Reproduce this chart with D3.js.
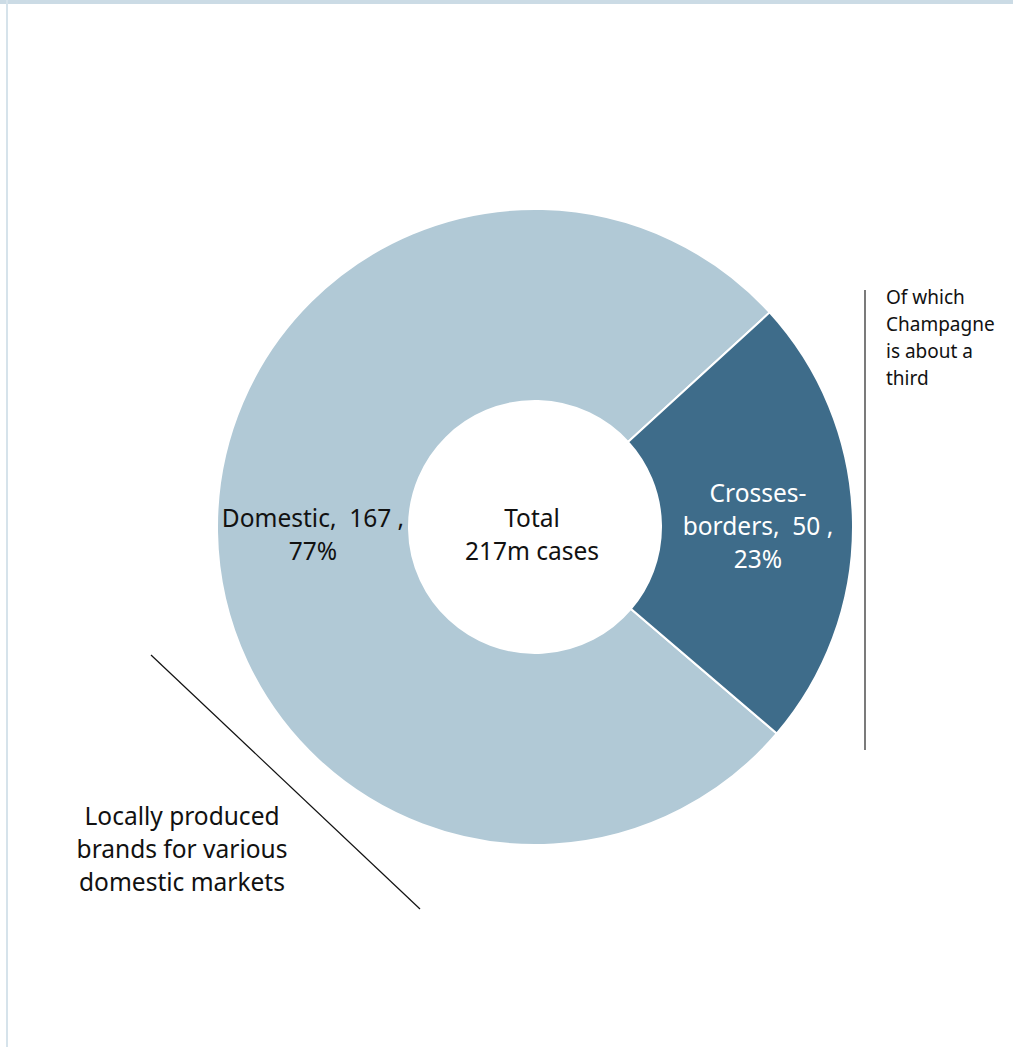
<!DOCTYPE html>
<html>
<head>
<meta charset="utf-8">
<script src="https://cdn.jsdelivr.net/npm/d3@7"></script>
<style>
  html, body { margin: 0; padding: 0; background: #fff; }
  svg text { font-family: "Noto Sans", "Open Sans", sans-serif; white-space: pre; }
</style>
</head>
<body>
<svg></svg>
<script>
// ─── DATA ─────────────────────────────────────────────────────────────
const categories = ["Domestic", "Crosses-borders"];
const values = [167, 50];
const shares = ["77%", "23%"];
const totalLines = ["Total", "217m cases"];
const champagneNote = ["Of which", "Champagne", "is about a", "third"];
const localNote = ["Locally produced", "brands for various", "domestic markets"];

// ─── DIMENSIONS ───────────────────────────────────────────────────────
const width = 1013,
  height = 1047,
  cx = 535,
  cy = 527,
  outerR = 318,
  innerR = 126;

const svg = d3.select("svg").attr("width", width).attr("height", height);

// frame lines (top + left)
svg.append("rect").attr("x", 0).attr("y", 0).attr("width", width).attr("height", 4).attr("fill", "#cbdbe5");
svg.append("rect").attr("x", 6).attr("y", 0).attr("width", 2).attr("height", height).attr("fill", "#d6e3eb");

const color = d3.scaleOrdinal().domain(categories).range(["#b1c9d6", "#3e6c8a"]);

const data = categories.map((c, i) => ({ name: c, value: values[i], share: shares[i] }));

// start so the cross-border slice sits around 3 o'clock
const startDeg = 130.5;
const pie = d3
  .pie()
  .sort(null)
  .value((d) => d.value)
  .startAngle((startDeg * Math.PI) / 180)
  .endAngle(((startDeg + 360) * Math.PI) / 180);

const arc = d3.arc().innerRadius(innerR).outerRadius(outerR);

const g = svg.append("g").attr("transform", `translate(${cx},${cy})`);

g.selectAll("path")
  .data(pie(data))
  .join("path")
  .attr("d", arc)
  .attr("fill", (d) => color(d.data.name))
  .attr("stroke", "#fff")
  .attr("stroke-width", 2);

// ─── SLICE LABELS ────────────────────────────────────────────────────
function multiline(sel, lines, x, y, lh, size, fill, anchor = "middle") {
  const t = sel
    .append("text")
    .attr("text-anchor", anchor)
    .attr("font-size", size)
    .attr("fill", fill);
  lines.forEach((l, i) => {
    t.append("tspan").attr("x", x).attr("y", y + i * lh).text(l);
  });
  return t;
}

multiline(svg, [`${categories[0]},  ${values[0]} ,`, shares[0]], 313, 527, 33, 24.5, "#111");
multiline(svg, ["Crosses-", `borders,  ${values[1]} ,`, shares[1]], 758, 502, 33, 24.5, "#fff");
multiline(svg, totalLines, 532, 527, 33, 24.5, "#111");

// ─── ANNOTATIONS ─────────────────────────────────────────────────────
svg.append("line")
  .attr("x1", 865).attr("y1", 290).attr("x2", 865).attr("y2", 750)
  .attr("stroke", "#222").attr("stroke-width", 1.2);
multiline(svg, champagneNote, 886, 304, 27, 19, "#111", "start");

svg.append("line")
  .attr("x1", 151).attr("y1", 655).attr("x2", 420).attr("y2", 909)
  .attr("stroke", "#111").attr("stroke-width", 1.2);
multiline(svg, localNote, 182, 825, 33, 24.5, "#111");
</script>
</body>
</html>
